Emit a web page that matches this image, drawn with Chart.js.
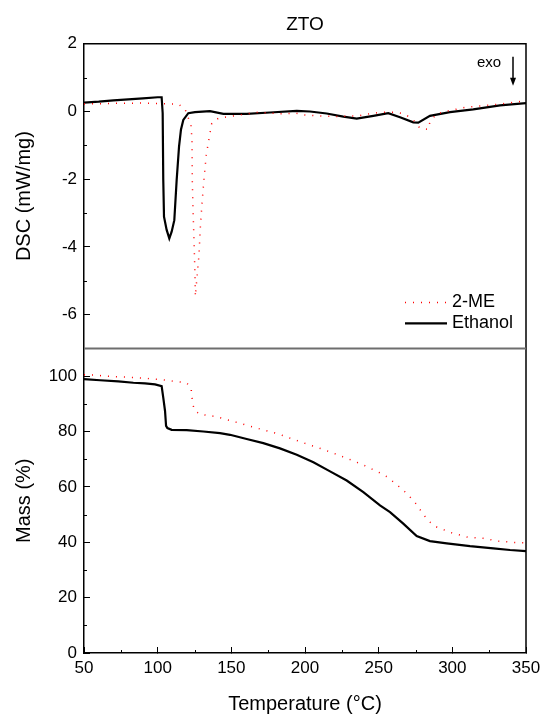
<!DOCTYPE html>
<html>
<head>
<meta charset="utf-8">
<title>ZTO DSC / TG</title>
<script src="https://cdn.jsdelivr.net/npm/chart.js@4.4.1/dist/chart.umd.min.js"></script>
<style>
  html, body { margin: 0; padding: 0; background: #fff; }
  #wrap { width: 544px; height: 716px; position: relative; }
</style>
</head>
<body>
<div id="wrap"><canvas id="myChart"></canvas></div>
<script>
// --- values ---
// DSC, Ethanol (black solid)
const tempDscEthanol = [50, 60, 70, 80, 90, 100, 102.7, 103.4, 103.8, 104.3, 106.1, 107.9, 109.5, 111.3, 112.9, 114.5, 115.8, 117.4, 120.8, 125.3, 135.5, 144.6, 160.4, 176.2, 194.4, 203.4, 214.7, 226, 235.1, 246.4, 256.5, 264.5, 273.5, 276.9, 284.8, 298.4, 314.2, 332.4, 350];
const dscEthanol = [0.26, 0.29, 0.33, 0.36, 0.39, 0.42, 0.42, -0.05, -2.02, -3.11, -3.5, -3.75, -3.55, -3.21, -2.02, -1.04, -0.54, -0.25, -0.05, -0.02, 0.01, -0.07, -0.07, -0.03, 0.02, 0.0, -0.06, -0.15, -0.21, -0.13, -0.05, -0.17, -0.32, -0.33, -0.13, -0.02, 0.06, 0.18, 0.25];

// DSC, 2-ME (red dotted)
const tempDscMe = [50, 70, 90, 108.4, 114, 118.6, 122.6, 123.3, 123.5, 124, 124.7, 125.3, 125.6, 126.9, 128, 129, 130.1, 131.5, 133, 134.6, 136.7, 141.2, 151.4, 168.3, 183, 194, 198.8, 210.2, 220.4, 236.2, 241.9, 252.1, 262.3, 267.9, 273.5, 278, 283.7, 284.8, 289.4, 298.4, 309.8, 321, 332.4, 347, 350];
const dscMe = [0.22, 0.24, 0.25, 0.22, 0.22, 0.07, -0.4, -0.84, -2.02, -2.91, -3.85, -4.78, -5.46, -4.78, -4.27, -3.4, -2.71, -1.97, -1.28, -0.87, -0.35, -0.2, -0.13, -0.02, -0.07, -0.05, -0.1, -0.13, -0.15, -0.13, -0.08, -0.02, -0.02, -0.08, -0.25, -0.49, -0.53, -0.3, -0.07, 0.03, 0.13, 0.17, 0.22, 0.3, 0.31];

// Mass, Ethanol
const tempMassEthanol = [50, 60.9, 73.3, 83.5, 91.4, 98.2, 102.7, 103.8, 105, 105.7, 106.6, 109.5, 119.7, 131, 142.3, 149.1, 160.4, 171.7, 183, 194.4, 205.7, 217, 228.3, 239.6, 250.9, 257.7, 266.7, 275.8, 284.8, 296.2, 312, 327.8, 339.2, 350];
const massEthanol = [98.9, 98.5, 98.1, 97.6, 97.4, 97.0, 96.4, 92.2, 87.4, 82.0, 81.2, 80.6, 80.5, 80.0, 79.4, 78.8, 77.3, 75.8, 73.9, 71.6, 68.9, 65.6, 62.3, 58.1, 53.3, 50.9, 46.7, 42.2, 40.4, 39.6, 38.6, 37.8, 37.2, 36.8];

// Mass, 2-ME
const tempMassMe = [50, 55.2, 71, 86.9, 102.7, 112.9, 119.2, 122.6, 123.7, 124.9, 128.7, 139.4, 150.2, 166, 181.9, 197.8, 213.6, 229.5, 239.6, 250.3, 256, 261.1, 266.3, 271.3, 275.8, 279.6, 283.7, 289.4, 299.6, 309.8, 321, 331.3, 342.6, 350];
const massMe = [100.5, 100.4, 99.8, 99.4, 98.7, 98.0, 97.7, 96.0, 90.4, 87.7, 86.2, 85.4, 83.8, 81.4, 79.1, 76.1, 73.3, 70.1, 67.9, 65.2, 63.5, 61.3, 59.0, 56.3, 53.6, 50.6, 47.7, 45.5, 43.4, 41.9, 41.4, 40.4, 39.9, 39.8];

// axis limits and tick steps
const tempRange = [50, 350];
const dscRange = [-7, 2];
const massRange = [0, 110];
const majorSteps = { x: 50, yDsc: 2, yMass: 20 };
const minorSteps = { x: 25, yDsc: 1, yMass: 10 };

const FONT = '"Liberation Sans", Arial, sans-serif';
Chart.defaults.font.family = FONT;
Chart.defaults.color = '#000';

const toPoints = (xs, ys) => xs.map((x, i) => ({ x: x, y: ys[i] }));

// short inward minor ticks between the labelled ones
const minorTicks = {
    id: 'minorTicks',
    afterDraw(chart) {
        const { ctx, chartArea } = chart;
        ctx.save();
        ctx.strokeStyle = '#000';
        ctx.lineWidth = 1;
        Object.keys(minorSteps).forEach(id => {
            const scale = chart.scales[id];
            const step = minorSteps[id];
            for (let v = scale.min + step; v < scale.max; v += step) {
                if (Math.abs(v / majorSteps[id] - Math.round(v / majorSteps[id])) < 1e-6) continue;
                const p = Math.round(scale.getPixelForValue(v)) + 0.5;
                ctx.beginPath();
                if (id === 'x') {
                    ctx.moveTo(p, chartArea.bottom);
                    ctx.lineTo(p, chartArea.bottom - 3);
                } else {
                    ctx.moveTo(chartArea.left, p);
                    ctx.lineTo(chartArea.left + 3, p);
                }
                ctx.stroke();
            }
        });
        ctx.restore();
    }
};

// top/right frame and the grey divider between the two panels
const plotFrame = {
    id: 'plotFrame',
    afterDatasetsDraw(chart) {
        const { ctx, chartArea: { left, right, top, bottom }, scales } = chart;
        ctx.save();
        ctx.strokeStyle = '#000';
        ctx.lineWidth = 1.5;
        ctx.beginPath();
        ctx.moveTo(left, top);
        ctx.lineTo(right, top);
        ctx.lineTo(right, bottom);
        ctx.stroke();
        const yDiv = scales.yDsc.bottom;
        ctx.strokeStyle = '#6e6e6e';
        ctx.lineWidth = 2;
        ctx.beginPath();
        ctx.moveTo(left, yDiv);
        ctx.lineTo(right, yDiv);
        ctx.stroke();
        ctx.restore();
    }
};

// legend inside the DSC panel + the "exo" arrow
const panelLegend = {
    id: 'panelLegend',
    afterDraw(chart) {
        const { ctx, chartArea, scales } = chart;
        const items = chart.data.datasets.filter(d => d.yAxisID === 'yDsc');
        ctx.save();
        ctx.font = '18px ' + FONT;
        ctx.textBaseline = 'middle';
        ctx.textAlign = 'left';
        items.forEach((ds, i) => {
            const y = scales.yDsc.bottom - 46 + i * 21;
            ctx.strokeStyle = ds.borderColor;
            ctx.lineWidth = ds.borderWidth;
            ctx.setLineDash(ds.borderDash || []);
            ctx.beginPath();
            ctx.moveTo(chartArea.right - 121, y);
            ctx.lineTo(chartArea.right - 79, y);
            ctx.stroke();
            ctx.setLineDash([]);
            ctx.fillStyle = '#000';
            ctx.fillText(ds.label, chartArea.right - 74, y);
        });

        const top = scales.yDsc.top;
        const ax = chartArea.right - 13;
        ctx.font = '15px ' + FONT;
        ctx.textAlign = 'center';
        ctx.fillText('exo', chartArea.right - 37, top + 19);
        ctx.strokeStyle = '#000';
        ctx.lineWidth = 1.5;
        ctx.beginPath();
        ctx.moveTo(ax, top + 13);
        ctx.lineTo(ax, top + 36);
        ctx.stroke();
        ctx.fillStyle = '#000';
        ctx.beginPath();
        ctx.moveTo(ax - 3, top + 34);
        ctx.lineTo(ax + 3, top + 34);
        ctx.lineTo(ax, top + 42);
        ctx.closePath();
        ctx.fill();
        ctx.restore();
    }
};

const tickFont = { size: 17 };
const titleFont = { size: 20 };

function yAxis(range, step, title, weight) {
    return {
        type: 'linear',
        position: 'left',
        stack: 'panels',
        stackWeight: 1,
        weight: weight,
        min: range[0],
        max: range[1],
        ticks: { stepSize: step, includeBounds: false, padding: 13, font: tickFont, color: '#000' },
        grid: { drawOnChartArea: false, tickLength: -6, tickColor: '#000', tickWidth: 1 },
        border: { color: '#000', width: 1.5 },
        title: { display: true, text: title, font: titleFont, color: '#000', padding: { top: 12, bottom: 0 } },
        afterFit: scale => { scale.width = 84; }
    };
}

const chartCanvas = document.getElementById('myChart');
new Chart(chartCanvas, {
    type: 'line',
    data: {
        datasets: [
            {
                label: '2-ME',
                data: toPoints(tempDscMe, dscMe),
                yAxisID: 'yDsc',
                borderColor: '#ff0000',
                borderWidth: 1.5,
                borderDash: [1, 7],
                pointRadius: 0,
                tension: 0
            },
            {
                label: 'Ethanol',
                data: toPoints(tempDscEthanol, dscEthanol),
                yAxisID: 'yDsc',
                borderColor: '#000000',
                borderWidth: 2.2,
                pointRadius: 0,
                tension: 0
            },
            {
                label: '2-ME',
                data: toPoints(tempMassMe, massMe),
                yAxisID: 'yMass',
                borderColor: '#ff0000',
                borderWidth: 1.5,
                borderDash: [1, 7],
                pointRadius: 0,
                tension: 0
            },
            {
                label: 'Ethanol',
                data: toPoints(tempMassEthanol, massEthanol),
                yAxisID: 'yMass',
                borderColor: '#000000',
                borderWidth: 2.2,
                pointRadius: 0,
                tension: 0
            }
        ]
    },
    options: {
        responsive: true,
        maintainAspectRatio: false,
        animation: false,
        layout: { padding: { left: 0, right: 18, top: 0, bottom: 0 } },
        scales: {
            x: {
                type: 'linear',
                position: 'bottom',
                min: tempRange[0],
                max: tempRange[1],
                ticks: { stepSize: majorSteps.x, padding: 11, font: tickFont, color: '#000', maxRotation: 0 },
                grid: { drawOnChartArea: false, tickLength: -6, tickColor: '#000', tickWidth: 1 },
                border: { color: '#000', width: 1.5 },
                title: { display: true, text: 'Temperature (°C)', font: titleFont, color: '#000', padding: { top: 5, bottom: 0 } },
                afterFit: scale => {
                    scale.height = 63;
                    // let the end labels hang over the padding instead of shrinking the plot
                    scale.paddingLeft = 0;
                    scale.paddingRight = 0;
                }
            },
            yMass: yAxis(massRange, majorSteps.yMass, 'Mass (%)', 0),
            yDsc: yAxis(dscRange, majorSteps.yDsc, 'DSC (mW/mg)', 1)
        },
        plugins: {
            legend: { display: false },
            tooltip: { enabled: false },
            title: {
                display: true,
                fullSize: false,
                text: 'ZTO',
                color: '#000',
                font: { size: 19, weight: 'normal' },
                padding: { top: 13, bottom: 8 }
            }
        }
    },
    plugins: [minorTicks, plotFrame, panelLegend]
});
</script>
</body>
</html>
